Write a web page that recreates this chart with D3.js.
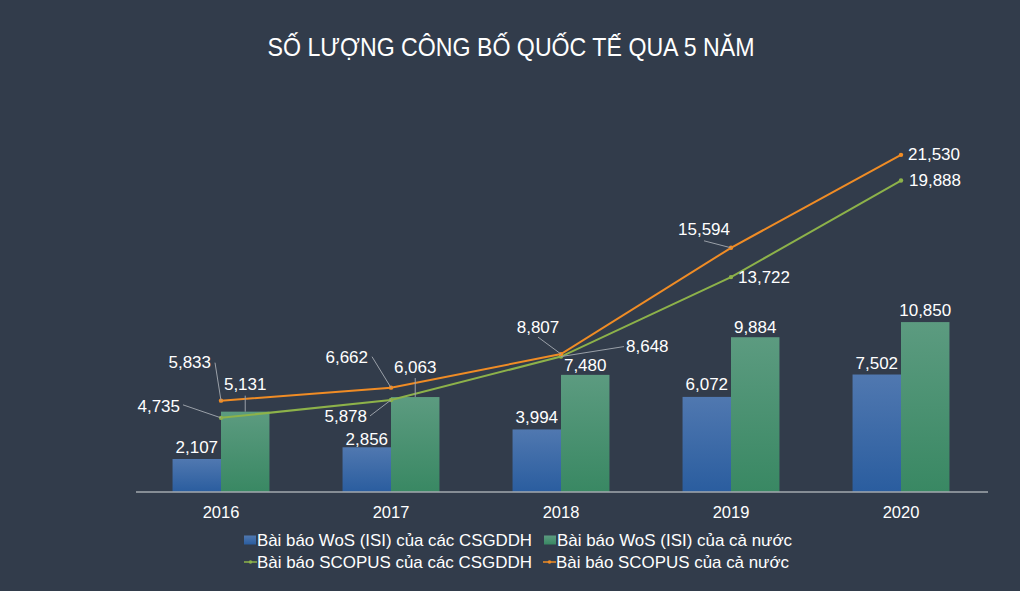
<!DOCTYPE html>
<html><head><meta charset="utf-8">
<script src="https://cdn.jsdelivr.net/npm/d3@7"></script>
<style>
html,body{margin:0;padding:0;background:#323c4b;}
svg{display:block;font-family:Arial,"Liberation Sans",sans-serif;}
</style></head>
<body>
<svg id="chart" width="1020" height="591"></svg>
<script>
// ---- data ----
const years = ["2016","2017","2018","2019","2020"];
const wosCSGDDH = [2107, 2856, 3994, 6072, 7502];
const wosNational = [5131, 6063, 7480, 9884, 10850];
const scopusCSGDDH = [4735, 5878, 8648, 13722, 19888];
const scopusNational = [5833, 6662, 8807, 15594, 21530];
const seriesNames = [
  "Bài báo WoS (ISI) của các CSGDDH",
  "Bài báo WoS (ISI) của cả nước",
  "Bài báo SCOPUS của các CSGDDH",
  "Bài báo SCOPUS của cả nước"
];
const titleText = "SỐ LƯỢNG CÔNG BỐ QUỐC TẾ QUA 5 NĂM";

// ---- label layout (offsets relative to mark; [dx, dy, anchor, leaderStartDx, leaderStartDy]) ----
const layoutScopusNat = [
  [-10,-38,"end",-6,-38],[-23,-30,"end",-19,-31],[-23,-27,"middle",-23,-17],[-1,-18,"end",-27,-7],[7,0,"start",null,null]
];
const layoutScopusCS = [
  [-41,-11,"end",-38,-13],[-24,17,"end",-21,16],[65,-10,"start",63,-10],[7,0,"start",null,null],[8,0,"start",null,null]
];
const layoutWosNat = [[0,-27,true],[0,-30,true],[0,-9,false],[0,-10,false],[0,-12,false]];
const layoutWosCS = [-12,-8,-12,-12,-11];

const svg = d3.select("#chart");

const x = d3.scaleBand().domain(years).range([136, 986]).paddingInner(0.43).paddingOuter(0.215);
const y = d3.scaleLinear().domain([0, 25000]).range([492, 100.5]);
const bw = x.bandwidth()/2;
const fmt = d3.format(",");

const defs = svg.append("defs");
function grad(id, top, bottom){
  const g = defs.append("linearGradient").attr("id", id).attr("x1",0).attr("y1",0).attr("x2",0).attr("y2",1);
  g.append("stop").attr("offset","0%").attr("stop-color",top);
  g.append("stop").attr("offset","100%").attr("stop-color",bottom);
}
grad("gBlue", "#5078b0", "#2a5d9f");
grad("gGreen", "#5c9b80", "#398863");

const cLineG = "#8db24a", cLineO = "#f08c25";
const leaderColor = "#9aa0a8";
const labelFont = 17;

// title
svg.append("text").attr("x", 511).attr("y", 47).attr("text-anchor","middle")
  .attr("dominant-baseline","central").attr("fill","#ffffff").attr("font-size",26)
  .attr("textLength",487).attr("lengthAdjust","spacingAndGlyphs")
  .text(titleText);

// bars
svg.append("g").selectAll("rect").data(years).join("rect")
  .attr("x", d => x(d)).attr("y", (d,i) => y(wosCSGDDH[i]))
  .attr("width", bw).attr("height", (d,i) => y(0) - y(wosCSGDDH[i]))
  .attr("fill","url(#gBlue)");
svg.append("g").selectAll("rect").data(years).join("rect")
  .attr("x", d => x(d) + bw).attr("y", (d,i) => y(wosNational[i]))
  .attr("width", bw).attr("height", (d,i) => y(0) - y(wosNational[i]))
  .attr("fill","url(#gGreen)");

// axis
const axis = svg.append("g").attr("transform", `translate(0,${y(0)})`)
  .call(d3.axisBottom(x).tickSize(0).tickPadding(14));
axis.select(".domain").attr("stroke","#a3a8ae").attr("stroke-width",1.3).attr("d","M136,0H988");
axis.selectAll("text").attr("fill","#ffffff").attr("font-size",16.5)
  .attr("font-family",'Arial,"Liberation Sans",sans-serif');

// lines
const cx = d => x(d) + x.bandwidth()/2;
function drawLine(vals, color){
  const line = d3.line().x((d,i) => cx(years[i])).y(d => y(d));
  svg.append("path").datum(vals).attr("d", line).attr("fill","none")
    .attr("stroke", color).attr("stroke-width", 2);
  svg.append("g").selectAll("circle").data(vals).join("circle")
    .attr("cx",(d,i)=>cx(years[i])).attr("cy", d=>y(d)).attr("r",2.2).attr("fill",color);
}
drawLine(scopusCSGDDH, cLineG);
drawLine(scopusNational, cLineO);

const labels = svg.append("g").attr("fill","#ffffff").attr("font-size",labelFont);
function label(xp, yp, t, anchor){
  labels.append("text").attr("x",xp).attr("y",yp).attr("text-anchor",anchor)
    .attr("dominant-baseline","central").text(t);
}
function leader(x1,y1,x2,y2){
  svg.append("line").attr("x1",x1).attr("y1",y1).attr("x2",x2).attr("y2",y2)
    .attr("stroke",leaderColor).attr("stroke-width",1);
}

function lineLabels(vals, layout){
  vals.forEach((v,i) => {
    const px = cx(years[i]), py = y(v);
    const [dx,dy,anc,lx,ly] = layout[i];
    if (lx !== null) leader(px+lx, py+ly, px, py);
    label(px+dx, py+dy, fmt(v), anc);
  });
}
lineLabels(scopusNational, layoutScopusNat);
lineLabels(scopusCSGDDH, layoutScopusCS);

wosNational.forEach((v,i) => {
  const bx = x(years[i]) + bw*1.5, by = y(v);
  const [dx,dy,hasLeader] = layoutWosNat[i];
  if (hasLeader) leader(bx, by + dy + 11, bx, by);
  label(bx+dx, by+dy, fmt(v), "middle");
});
wosCSGDDH.forEach((v,i) => {
  const bx = x(years[i]) + bw*0.5, by = y(v);
  label(bx, by + layoutWosCS[i], fmt(v), "middle");
});

// legend
const lg = svg.append("g").attr("font-size",17).attr("fill","#ffffff");
const legendPos = [[244,540],[544,540],[244,562],[543,562]];
const legendTextW = [275,235,275,233];
const legendType = ["rect","rect","line","line"];
const legendColor = ["url(#gBlue)","url(#gGreen)",cLineG,cLineO];
seriesNames.forEach((n,i) => {
  const [lx,ly] = legendPos[i];
  if (legendType[i]==="rect") {
    lg.append("rect").attr("x",lx).attr("y",ly-4.5).attr("width",12).attr("height",9).attr("fill",legendColor[i]);
  } else {
    lg.append("line").attr("x1",lx).attr("x2",lx+13).attr("y1",ly).attr("y2",ly)
      .attr("stroke",legendColor[i]).attr("stroke-width",1.5);
    lg.append("circle").attr("cx",lx+6.5).attr("cy",ly).attr("r",1.8).attr("fill",legendColor[i]);
  }
  lg.append("text").attr("x",lx+13).attr("y",ly).attr("dominant-baseline","central")
    .attr("textLength",legendTextW[i]).attr("lengthAdjust","spacingAndGlyphs").text(n);
});
</script>
</body></html>
